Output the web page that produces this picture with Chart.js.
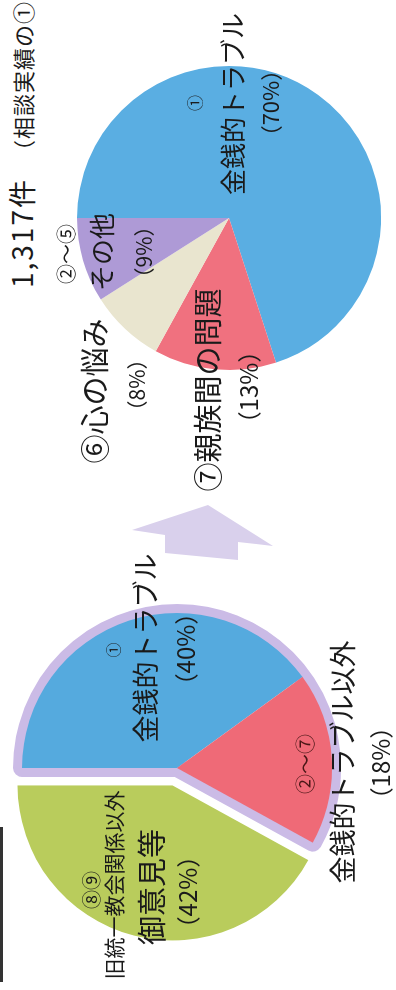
<!DOCTYPE html>
<html lang="ja">
<head>
<meta charset="utf-8">
<script src="https://cdn.jsdelivr.net/npm/chart.js@4.4.1/dist/chart.umd.min.js"></script>
<style>
  html, body { margin: 0; padding: 0; background: #fff; overflow: hidden; }
  body { width: 396px; height: 990px; position: relative; }
  #page {
    position: absolute; left: 0; top: 0;
    width: 990px; height: 396px;
    transform-origin: 0 0;
    transform: translate(0, 990px) rotate(-90deg);
    font-family: "Noto Sans CJK JP", "Noto Sans", sans-serif;
    color: #1a1a1a;
  }
  #page canvas { position: absolute; }
  .lbl { position: absolute; white-space: nowrap; line-height: 1; transform: translate(-50%, -50%); }
  #arrow { position: absolute; left: 0; top: 0; }
  #edge { position: absolute; left: 8px; top: 0; width: 155px; height: 3px; background: #333; }
</style>
</head>
<body>
<div id="page">
  <svg id="arrow" width="990" height="396">
    <polygon points="485,208 460,132 455,165 437,165 430,238 448,238 444,273" fill="#d9d0ec"/>
  </svg>
  <div id="edge"></div>
  <canvas id="beforeChart" width="380" height="380" style="left:32px;top:-13px"></canvas>
  <canvas id="afterChart" width="340" height="340" style="left:602px;top:59px"></canvas>
</div>
<script>
// 相談内容の内訳（%）
const beforeLabels = ['金銭的トラブル', '金銭的トラブル以外', '御意見等'];
const beforeValues = [40, 18, 42];
const beforeColors = ['#55aade', '#ef6a77', '#b9cc5c'];

const afterLabels = ['金銭的トラブル', '親族間の問題', '心の悩み', 'その他'];
const afterValues = [70, 13, 8, 9];
const afterColors = ['#5aaee2', '#f0717f', '#e9e5cf', '#ae9ad6'];

const afterTotal = '1,317件';

// 御意見等の扇だけ少し外へずらす（offset だと半径も大きくなるため）
const explodePlugin = {
    id: 'explode',
    afterDatasetUpdate(chart) {
        const arc = chart.getDatasetMeta(0).data[2];
        const mid = (arc.startAngle + arc.endAngle) / 2;
        arc.x += Math.cos(mid) * 18;
        arc.y += Math.sin(mid) * 18;
    }
};

// 金銭的トラブル関係（①〜⑦）を囲む薄紫の縁取り
const outlinePlugin = {
    id: 'outline',
    beforeDatasetsDraw(chart) {
        const arcs = chart.getDatasetMeta(0).data;
        const a = arcs[0], b = arcs[1];
        const ctx = chart.ctx;
        ctx.save();
        ctx.beginPath();
        ctx.moveTo(a.x, a.y);
        ctx.arc(a.x, a.y, a.outerRadius, a.startAngle, b.endAngle);
        ctx.closePath();
        ctx.lineWidth = 18;
        ctx.lineJoin = 'round';
        ctx.strokeStyle = '#cbbbe6';
        ctx.stroke();
        ctx.restore();
    }
};

const baseOptions = {
    responsive: false,
    animation: false,
    plugins: {
        legend: { display: false },
        tooltip: { enabled: false }
    }
};

new Chart(document.getElementById('beforeChart').getContext('2d'), {
    type: 'pie',
    data: {
        labels: beforeLabels,
        datasets: [{
            data: beforeValues,
            backgroundColor: beforeColors,
            borderWidth: 0,
            radius: 155
        }]
    },
    options: baseOptions,
    plugins: [explodePlugin, outlinePlugin]
});

new Chart(document.getElementById('afterChart').getContext('2d'), {
    type: 'pie',
    data: {
        labels: afterLabels,
        datasets: [{
            data: afterValues,
            backgroundColor: afterColors,
            borderWidth: 0,
            radius: 152
        }]
    },
    options: baseOptions
});

// ラベル（元の向きでの座標）
const page = document.getElementById('page');
function addLabel(text, u, v, size, extra) {
    const d = document.createElement('div');
    d.className = 'lbl';
    d.textContent = text;
    d.style.left = u + 'px';
    d.style.top = v + 'px';
    d.style.fontSize = size + 'px';
    if (extra) Object.assign(d.style, extra);
    page.appendChild(d);
    return d;
}
const pct = v => '（' + v + '%）';

// 見出し
addLabel(afterTotal, 702, 21, 28, { transform: 'translate(0,-50%)', letterSpacing: '2px' });
addLabel('（相談実績の①', 828, 22, 22, { transform: 'translate(0,-50%)', letterSpacing: '1px' });

// 右の円グラフ
addLabel('①', 887, 194, 16);
addLabel('金銭的トラブル', 886, 232, 26);
addLabel(pct(afterValues[0]), 887, 269, 22);
addLabel('②～⑤', 736, 66, 20);
addLabel('その他', 738, 101, 26);
addLabel(pct(afterValues[3]), 738, 143, 21);
addLabel('⑥心の悩み', 599, 93, 29);
addLabel(pct(afterValues[2]), 605, 136, 21);
addLabel('⑦親族間の問題', 600, 206, 29);
addLabel(pct(afterValues[1]), 603, 248, 24);

// 左の円グラフ
addLabel('①', 340, 112, 15);
addLabel('金銭的トラブル', 342, 144, 27);
addLabel(pct(beforeValues[0]), 341, 185, 24);
addLabel('②～⑦', 226, 305, 20, { color: '#4a1616' });
addLabel('金銭的トラブル以外', 228, 341, 27);
addLabel(pct(beforeValues[1]), 227, 380, 24);
addLabel('⑧⑨', 100, 90, 19);
addLabel('旧統一教会関係以外', 105, 113, 21);
addLabel('御意見等', 103, 150, 29);
addLabel(pct(beforeValues[2]), 98, 187, 24);
</script>
</body>
</html>
